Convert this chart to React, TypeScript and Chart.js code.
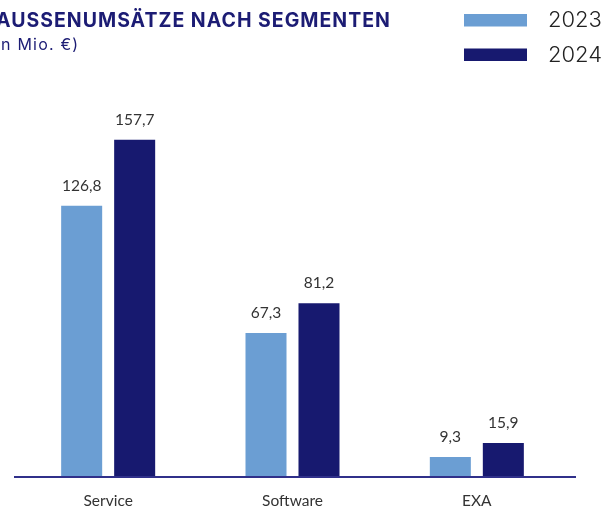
import React, { useEffect, useRef } from "react";
import { Chart, registerables } from "chart.js";

Chart.register(...registerables);

const categories = ["Service", "Software", "EXA"];
const values2023 = [126.8, 67.3, 9.3];
const values2024 = [157.7, 81.2, 15.9];
const seriesLabels = ["2023", "2024"];
const titleText = "AUSSENUMSÄTZE NACH SEGMENTEN";
const subtitleText = "(in Mio. €)";

const LIGHT = "#6b9ed3";
const NAVY = "#17196f";
const TEXT = "#333333";

const overlayPlugin = {
  id: "overlay",
  afterDatasetsDraw(chart: any) {
    const ctx = chart.ctx;
    ctx.save();
    // value labels
    ctx.font = "15.5px Lato";
    ctx.fillStyle = TEXT;
    ctx.textAlign = "center";
    ctx.textBaseline = "alphabetic";
    chart.data.datasets.forEach((ds: any, di: number) => {
      const meta = chart.getDatasetMeta(di);
      meta.data.forEach((bar: any, i: number) => {
        const v = ds.data[i] as number;
        ctx.fillText(v.toFixed(1).replace(".", ","), bar.x, bar.y - 15);
      });
    });
    // baseline axis line
    const y0 = chart.scales.y.getPixelForValue(0);
    ctx.strokeStyle = "#30308a";
    ctx.lineWidth = 2;
    ctx.beginPath();
    ctx.moveTo(14, y0);
    ctx.lineTo(576, y0);
    ctx.stroke();
    // title
    ctx.textAlign = "left";
    ctx.fillStyle = "#1c1c74";
    ctx.font = "700 19.5px Inter";
    (ctx as any).letterSpacing = "1px";
    ctx.fillText(titleText, -4, 27);
    ctx.font = "400 16px Inter";
    (ctx as any).letterSpacing = "1.2px";
    ctx.fillText(subtitleText, -11, 50);
    (ctx as any).letterSpacing = "0px";
    // legend
    chart.data.datasets.forEach((ds: any, di: number) => {
      const top = 14 + di * 34.5;
      ctx.fillStyle = ds.backgroundColor;
      ctx.fillRect(464, top, 63, 12.5);
      ctx.fillStyle = "#222222";
      ctx.font = "300 22px Inter";
      ctx.fillText(ds.label, 548, top + 13.3);
    });
    ctx.restore();
  },
};

export default function App() {
  const ref = useRef<HTMLCanvasElement>(null);
  useEffect(() => {
    if (!ref.current) return;
    const chart = new Chart(ref.current, {
      type: "bar",
      data: {
        labels: categories,
        datasets: [
          { label: seriesLabels[0], data: values2023, backgroundColor: LIGHT },
          { label: seriesLabels[1], data: values2024, backgroundColor: NAVY },
        ],
      },
      options: {
        responsive: false,
        animation: false,
        layout: { padding: { left: 16, right: 36, top: 92, bottom: 0 } },
        plugins: { legend: { display: false }, title: { display: false }, tooltip: { enabled: false } },
        datasets: { bar: { categoryPercentage: 0.575, barPercentage: 0.774 } },
        scales: {
          x: {
            grid: { display: false },
            border: { display: false },
            ticks: { color: TEXT, font: { family: "Lato", size: 15.5 }, padding: 7 },
            afterFit: (scale: any) => {
              scale.height = 33;
            },
          },
          y: { display: false, min: 0, max: 180 },
        },
      },
      plugins: [overlayPlugin],
    });
    return () => chart.destroy();
  }, []);
  return (
    <div style={{ position: "absolute", left: 0, top: 0, width: 605, height: 510 }}>
      <canvas ref={ref} width={605} height={510} style={{ display: "block" }} />
    </div>
  );
}
